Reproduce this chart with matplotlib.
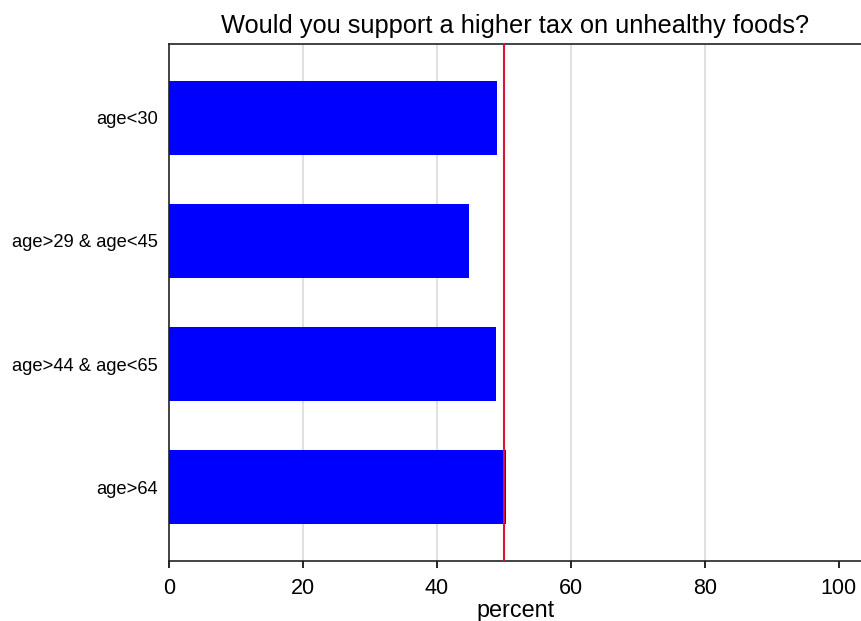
import matplotlib
matplotlib.use("Agg")
import matplotlib.pyplot as plt

groups = ["age<30", "age>29 & age<45", "age>44 & age<65", "age>64"]
percent = [49.0, 44.8, 48.8, 50.3]
ref_line = 50
xticks = [0, 20, 40, 60, 80, 100]

plt.rcParams["font.family"] = ["Liberation Sans", "DejaVu Sans"]

fig = plt.figure(figsize=(8.61, 6.21), dpi=100)
ax = fig.add_axes([169/861, 1 - 561/621, 1 - 169/861, (561 - 44)/621])

pos = list(range(len(groups)))
ax.barh(pos, percent, height=0.6, color="#0000ff", zorder=3)
for gx in xticks[1:-1]:
    ax.axvline(gx, color="#e0e0e0", lw=1.5, zorder=1)
ax.axvline(ref_line, color="#dc143c", lw=1.5, zorder=4)

ax.set_xlim(0, 103.3)
ax.set_ylim(3.6, -0.6)
ax.set_xticks(xticks)
ax.set_yticks(pos)
ax.set_yticklabels(groups, fontsize=13.2)
ax.tick_params(axis="x", labelsize=15.5, length=5, width=1.2, pad=7.5)
ax.tick_params(axis="y", length=0, pad=8)
for s in ["left", "bottom", "top"]:
    ax.spines[s].set_linewidth(1.2)
    ax.spines[s].set_color("#222222")
ax.spines["right"].set_visible(False)

ax.set_xlabel("percent", fontsize=16.8, labelpad=0)
ax.set_title("Would you support a higher tax on unhealthy foods?", fontsize=18.3, pad=8)

fig.savefig("out.png", dpi=100)
